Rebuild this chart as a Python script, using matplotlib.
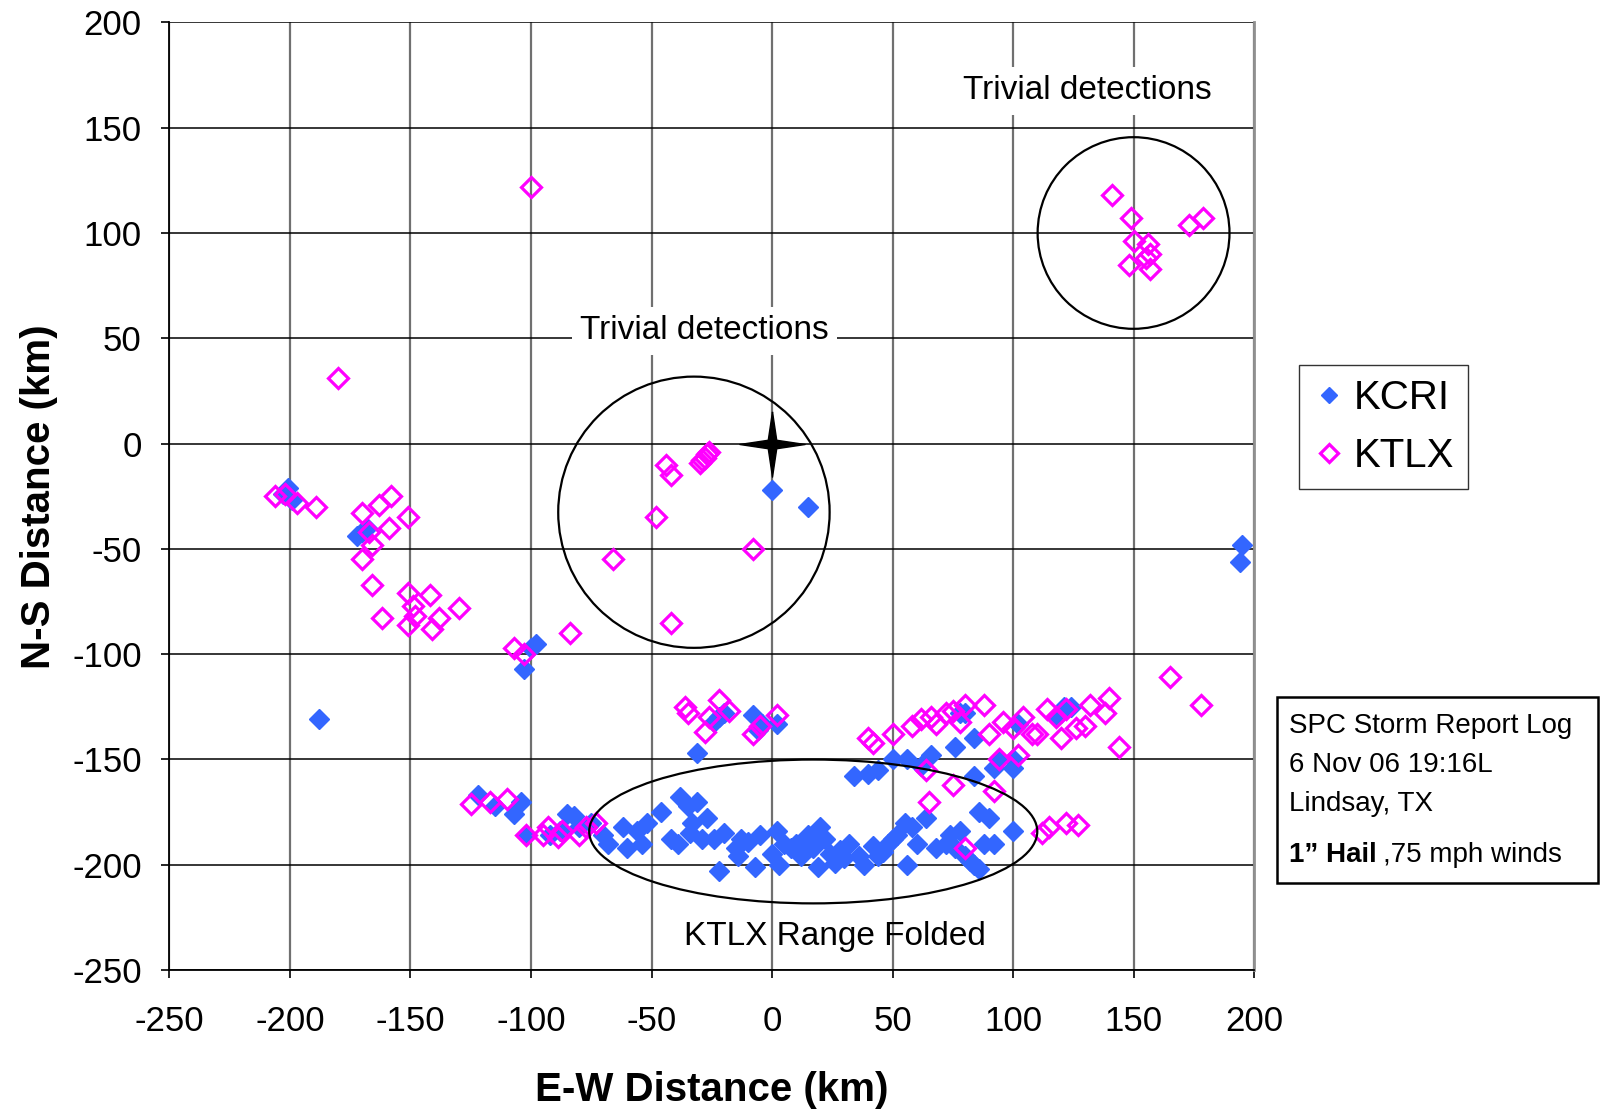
import numpy as np
import matplotlib.pyplot as plt
from matplotlib.patches import Ellipse
from matplotlib.path import Path

# KCRI detections (E-W km, N-S km)
kcri_x = [-201, -203, -199, -172, -170, -168, -188, -103, -100, -98, 0, 15, 195, 194, -31,
          -122, -115, -107, -104, -102, -92, -88, -85, -82, -80, -75, -70, -68, -62, -60, -56,
          -54, -52, -46, -42, -39, -38, -35, -33, -34, -31, -29, -27, -24, -22, -20, -15, -14,
          -13, -10, -7, -5, 0, 2, 3, 5, 8, 10, 12, 15, 17, 19, 20, 22, 24, 26, 28, 30, 32, 36,
          38, 42, 44, 46, 48, 50, 52, 55, 56, 58, 60, 64, 68, 72, 74, 76, 78, 80, 82, 84, 86,
          86, 88, 90, 92, 100,
          -24, -22, -20, -8, -6, -4, 2, 34, 40, 44, 50, 56, 62, 66, 76, 78, 80, 84, 84, 92, 94,
          100, 100, 102, 118, 120, 124, 121]
kcri_y = [-21, -24, -27, -44, -42, -40, -131, -107, -97, -95, -22, -30, -48, -56, -147,
          -167, -172, -176, -170, -186, -186, -184, -176, -177, -182, -180, -186, -190, -182,
          -192, -184, -190, -180, -175, -188, -190, -168, -172, -180, -185, -170, -188, -178,
          -188, -203, -185, -192, -196, -188, -189, -201, -186, -195, -184, -200, -190, -192,
          -190, -196, -186, -192, -201, -182, -188, -195, -199, -193, -197, -190, -196, -200,
          -191, -196, -194, -190, -188, -186, -180, -200, -182, -190, -178, -192, -190, -186,
          -192, -184, -196, -198, -200, -202, -175, -190, -178, -190, -184,
          -132, -130, -128, -129, -136, -133, -133, -158, -157, -155, -150, -150, -153, -148,
          -144, -128, -128, -140, -158, -154, -150, -154, -150, -133, -130, -128, -125, -125]

# KTLX detections (E-W km, N-S km)
ktlx_x = [-100, -180,
          -206, -202, -197, -189, -170, -163, -158, -159, -166, -167, -170, -166, -151, -162,
          -151, -149, -148, -151, -141, -142, -138, -130,
          -107, -103, -84,
          -44, -42, -30, -28, -27, -26, -29, -48, -66, -8, -42,
          141, 149, 150, 148, 155, 157, 156, 157, 173, 179,
          -36, -35, -28, -26, -22, -18, -8, -5, 2, 40, 42, 50, 58, 62, 64, 66, 68, 72, 75, 78,
          80, 88, 90, 94, 96, 100, 102, 104, 108, 110, 114, 118, 120, 122, 126, 130, 132, 138,
          140, 144, 165, 178, 65, 75, 80, 92,
          112, 115, 122, 127,
          -125, -117, -110, -102, -95, -93, -87, -89, -80, -77, -73]
ktlx_y = [122, 31,
          -25, -24, -28, -30, -33, -29, -25, -40, -48, -42, -55, -67, -35, -83,
          -71, -77, -82, -86, -88, -72, -83, -78,
          -97, -100, -90,
          -10, -15, -9, -7, -5, -4, -8, -35, -55, -50, -85,
          118, 107, 96, 85, 88, 90, 95, 83, 104, 107,
          -125, -128, -137, -130, -122, -127, -138, -134, -129, -140, -142, -138, -134, -131,
          -155, -130, -133, -128, -127, -132, -124, -124, -138, -150, -132, -135, -148, -130,
          -138, -138, -126, -130, -140, -126, -135, -134, -124, -128, -121, -144, -111, -124,
          -170, -162, -192, -165,
          -185, -182, -180, -181,
          -171, -170, -169, -186, -186, -182, -184, -187, -186, -182, -180]

x_ticks = [-250, -200, -150, -100, -50, 0, 50, 100, 150, 200]
y_ticks = [-250, -200, -150, -100, -50, 0, 50, 100, 150, 200]

narrow = ['Liberation Sans Narrow', 'Liberation Sans', 'DejaVu Sans']
plt.rcParams['font.family'] = ['Liberation Sans', 'DejaVu Sans']
plt.rcParams['axes.unicode_minus'] = False

fig = plt.figure(figsize=(16, 11.1), dpi=100)
ax = fig.add_axes([0.1059, 0.1261, 0.6779, 0.8537])

ax.plot(kcri_x, kcri_y, linestyle='none', marker='D', ms=9.8, color='#3366FF',
        mec='#3366FF', label='KCRI', zorder=3)
ax.plot(ktlx_x, ktlx_y, linestyle='none', marker='D', ms=10.3, mfc='none',
        mec='#FF00FF', mew=2.3, label='KTLX', zorder=4)

# radar location: four-pointed star
star = Path([(0, 1), (0.13, 0.13), (1, 0), (0.13, -0.13), (0, -1), (-0.13, -0.13),
             (-1, 0), (-0.13, 0.13), (0, 1)])
ax.plot([0], [0], marker=star, ms=47, color='black', linestyle='none', zorder=5)

# circled regions
for cx, cy, w, h in [(-32.4, -32.6, 112.6, 128.8), (150, 100, 79.6, 91), (17.1, -184.2, 185.9, 68.3)]:
    ax.add_patch(Ellipse((cx, cy), w, h, fill=False, edgecolor='black', lw=1.6, zorder=6))

ax.text(-28, 53.5, 'Trivial detections', family=narrow, fontsize=24, ha='center', va='center',
        bbox=dict(facecolor='white', edgecolor='none', pad=6), zorder=7)
ax.text(131, 167.5, 'Trivial detections', family=narrow, fontsize=24, ha='center', va='center',
        bbox=dict(facecolor='white', edgecolor='none', pad=6), zorder=7)
ax.text(26, -234, 'KTLX Range Folded', family=narrow, fontsize=24, ha='center', va='center', zorder=7)

ax.set_xlim(-250, 200)
ax.set_ylim(-250, 200)
ax.set_xticks(x_ticks)
ax.set_yticks(y_ticks)
ax.tick_params(labelsize=25, length=6, width=1.2, direction='out')
ax.tick_params(axis='x', pad=19)
ax.tick_params(axis='y', pad=14)
ax.grid(axis='x', color='#707070', lw=1.6, zorder=1)
ax.grid(axis='y', color='black', lw=1.1, zorder=1)
ax.set_axisbelow(True)
ax.spines['top'].set_visible(False)
ax.spines['right'].set_color('#909090')
ax.spines['right'].set_linewidth(2)
ax.spines['left'].set_linewidth(1.3)
ax.spines['bottom'].set_linewidth(1.3)

ax.set_xlabel('E-W Distance (km)', fontsize=29, fontweight='bold', labelpad=24)
ax.set_ylabel('N-S Distance (km)', fontsize=29, fontweight='bold', labelpad=10)

leg = fig.legend(loc='upper left', bbox_to_anchor=(1299 / 1600, 1 - 365 / 1110), fontsize=29,
                 frameon=True, fancybox=False, edgecolor='black', handletextpad=0.2,
                 handlelength=0.8, borderpad=0.35, labelspacing=0.5, markerscale=0.85,
                 borderaxespad=0)
leg.get_frame().set_linewidth(1.0)

# storm report box
bx0, by0, bx1, by1 = 1277 / 1600, 1 - 883 / 1110, 1598 / 1600, 1 - 697 / 1110
fig.patches.append(plt.Rectangle((bx0, by0), bx1 - bx0, by1 - by0, transform=fig.transFigure,
                                 fill=False, edgecolor='black', lw=1.8))
lines = ['SPC Storm Report Log', '6 Nov 06 19:16L', 'Lindsay, TX']
for i, t in enumerate(lines):
    fig.text(1289 / 1600, 1 - (726 + i * 39) / 1110, t, family=narrow, fontsize=20, va='center')
t1 = fig.text(1289 / 1600, 1 - 855 / 1110, '1\u201d Hail', fontsize=20, fontweight='bold', va='center')
fig.canvas.draw()
bb = t1.get_window_extent()
fig.text(bb.x1 / 1600 + 0.004, 1 - 855 / 1110, ',75 mph winds', family=narrow, fontsize=20, va='center')

fig.savefig('out.png', dpi=100)
